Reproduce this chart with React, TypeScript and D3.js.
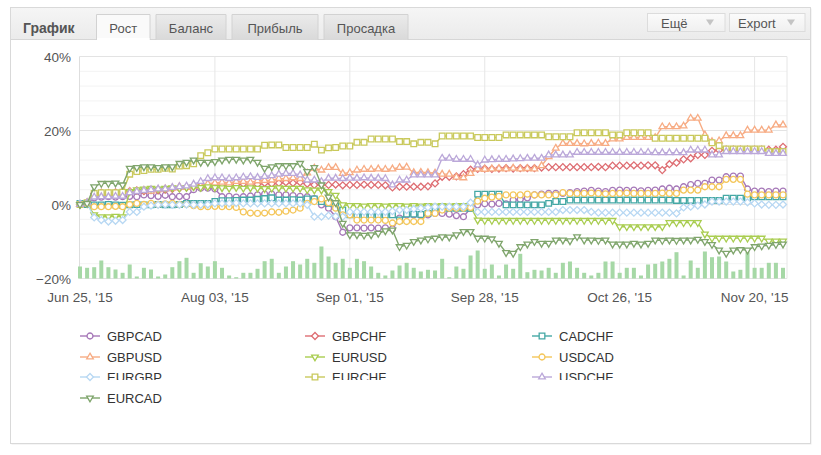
import React from 'react';
import * as d3 from 'd3';

// tick labels sit on every 19th trading point
const tickIdx = [0, 19, 38, 57, 76, 95];
const tickLabels = ["Jun 25, '15", "Aug 03, '15", "Sep 01, '15", "Sep 28, '15", "Oct 26, '15", "Nov 20, '15"];
const yTicks = [40, 20, 0, -20];

const GBPCAD = [
  0, 0.3, 1.8, 2, 2.1, 2, 2.1, 2.2, 2.1, 2.6,
  2.4, 2.2, 2.5, 2.1, 2.2, 2.1, 4, 4.4, 4.4, 4.2,
  2.1, 2.2, 2, 2.1, 2.3, 2.6, 2.8, 2.8, 2.6, 2.6,
  2.4, 2.2, 2.1, 1.6, -0.1, -1, -3.3, -7.5, -6.3, -6.3,
  -6.4, -6.3, -6.4, -6.3, -6.6, -3.7, -2.8, -2.8, -3, -2.8,
  -2.4, -2.4, -2.6, -3, -3.3, -1, -0.1, 0.2, 0.1, 0.3,
  0.2, 1.2, 1.4, 1.8, 2.6, 2.8, 3, 3, 3, 3.2,
  3.5, 3.6, 3.8, 3.6, 3.5, 3.8, 3.9, 3.8, 3.9, 3.7,
  3.8, 3.9, 4.2, 4.4, 4.2, 4.8, 5.4, 5.7, 5.7, 6.6,
  6.6, 7.5, 7.7, 7.7, 4.2, 3.6, 3.6, 3.5, 3.6, 3.6,
];
const GBPCHF = [
  0, 0.5, 3, 3.2, 2.8, 3.3, 3.5, 3.6, 3.8, 3.6,
  3.9, 3.8, 4, 4.2, 4.4, 4.6, 4.8, 5, 5, 5.2,
  5.4, 5.2, 5.4, 5.6, 5.3, 5.5, 5.8, 5.6, 5.8, 6,
  5.8, 6, 5.6, 5.3, 5.4, 5.3, 5.4, 5.2, 5.3, 5.3,
  5.4, 5.3, 5.3, 5.2, 4.6, 4.8, 4.8, 4.8, 4.8, 4.9,
  5.7, 7.5, 7.5, 7.6, 8.2, 9.4, 9.6, 9.7, 9.6, 9.7,
  9.8, 9.7, 9.8, 9.8, 9.8, 10, 10.1, 10.1, 10.1, 10.1,
  10.1, 10.1, 10.1, 10.2, 10.1, 10.5, 10.5, 10.5, 10.6, 10.5,
  10.6, 10.6, 9.3, 10.9, 11.3, 12.2, 12.5, 13.4, 13.4, 14.5,
  14.7, 14.8, 14.8, 14.8, 14.8, 14.8, 14.8, 14.8, 14.8, 15.6,
];
const CADCHF = [
  0.3, 0, -0.1, -0.1, 0, -0.1, -0.2, -0.1, 0, -0.1,
  -0.1, 0, -0.1, -0.1, 0, 0.3, 0.3, 0.3, 0.3, 0.8,
  1, 1, 1.1, 1.2, 1.2, 1.4, 1.6, 1.8, 1.2, 1.2,
  1.3, 1.2, 1.5, 1.5, 0.8, 0.3, -0.4, -1.5, -2.8, -2.8,
  -2.8, -2.8, -2.8, -2.8, -2.8, -4.2, -2.6, -2.6, -2.7, -2.4,
  -1.8, -1, -1, -1, -1, -1, 2.8, 2.8, 2.8, 2.8,
  -0.1, -0.1, -0.1, -0.1, -0.1, -0.1, 0.3, 0.8, 0.8, 1.2,
  1.2, 1.2, 1.2, 1.2, 1.2, 1.2, 1.2, 1.2, 1.2, 1.2,
  1.2, 1.2, 1.2, 1.2, 1.1, 1.1, 1.1, 1.1, 1.1, 1.1,
  1.1, 1.7, 1.7, 1.7, 1.7, 2.1, 2.1, 2.1, 2.1, 2.1,
];
const GBPUSD = [
  0, 0.5, 2.5, 2.8, 3, 2.8, 3.2, 3.5, 3.6, 3.8,
  3.6, 4, 4.2, 4.4, 4.8, 4.6, 5, 5, 5.6, 5.8,
  6, 5.8, 6.2, 6.2, 6, 6.4, 6.5, 6.6, 7, 7,
  7.2, 7, 8.5, 9.8, 9.3, 10, 10, 8.4, 8.6, 9.3,
  9.5, 9.5, 9.6, 9.5, 9.6, 10, 10.1, 8.6, 8.7, 8.6,
  8.5, 8.2, 8.2, 7.4, 7.2, 8.4, 9.6, 9.5, 9.6, 9.7,
  9.6, 9.8, 9.6, 9.7, 9.6, 10.5, 12.9, 15.2, 16.5, 16.5,
  16.5, 16.4, 16.5, 16.6, 16.5, 17.7, 17.7, 18.1, 18.1, 18.1,
  18.1, 18.1, 21, 21, 21, 21.2, 23.3, 23.3, 18.8, 17,
  17.2, 18.6, 18.6, 18.6, 20.1, 20.1, 20.1, 20.1, 21.5, 21.5,
];
const EURUSD = [
  0, 0.3, -2.8, -3.3, -3.3, -3.2, -3.3, 3.5, 4, 4.2,
  4.4, 4.2, 4.4, 4.5, 4.4, 4.6, 4.8, 4.6, 4.8, 4.6,
  4.5, 4.4, 4.6, 4.4, 4.5, 4.4, 4.3, 4.4, 4.5, 4.4,
  4.4, 4.4, 4, 3.9, 3.9, 3.5, 2.5, -0.1, -0.3, -0.3,
  -0.4, -0.3, -0.3, -0.4, -0.3, -0.3, -0.4, -0.3, -0.4, -0.3,
  -0.4, -0.3, -0.4, -0.3, -0.3, -0.6, -4.2, -4.3, -4.3, -4.3,
  -4.3, -4.3, -4.3, -4.3, -4.3, -4.3, -4.3, -4.3, -4.3, -4.3,
  -4.3, -4.3, -4.3, -4.3, -4.3, -4.3, -6, -6, -6, -6,
  -6, -6, -6, -4.9, -4.9, -4.9, -4.9, -4.9, -8, -9.1,
  -9.1, -9.1, -9.1, -9.1, -9.1, -9.1, -9.1, -9.9, -9.9, -9.9,
];
const USDCAD = [
  0, 0.2, -0.6, -0.6, -0.6, -0.5, -0.6, 0, 0.3, 0,
  0.3, 0, 0.2, 0.3, 0, 0, -0.3, -0.6, -0.6, -0.5,
  -0.6, -0.6, -0.8, -2, -2.3, -2.4, -2.3, -2, -2.1, -1.8,
  -1.5, -1, 0.3, 0.8, 1.5, 0.5, -1, -2.8, -2.8, -4.2,
  -4.2, -4.2, -4.2, -4.3, -5, -4.6, -4.6, -4.6, -4.6, -2.4,
  -2.4, -1.5, -1, -1, -1, -0.8, 0.9, 1.7, 2, 2.2,
  2.6, 2.6, 2.6, 2.8, 2.6, 2.6, 2.6, 2.6, 3.2, 3,
  3, 3, 3.1, 3, 2.9, 3, 3, 3.1, 3, 3,
  3, 3, 3.1, 3, 3, 3.9, 3.9, 3.9, 4.8, 4.8,
  4.8, 6.8, 6.8, 6.8, 2.8, 2.6, 2.6, 2.6, 2.6, 2.6,
];
const EURGBP = [
  0.3, 0.3, -3.5, -4.2, -4.6, -4.4, -4.2, -2, -2, -0.6,
  -0.3, -0.1, 0, -0.1, -0.1, 0, -0.1, -0.1, 0, 0.3,
  0.3, 0.3, 0.4, 0.3, 0.3, 0.3, 0.3, 0.3, 0.3, 0.3,
  0.3, 0.3, -0.1, -3.3, -3.3, -3, -3.2, -3.3, -2, -2,
  -2, -2, -2, -2, -1.8, -1.5, -1.5, -1.2, -1, -0.8,
  -0.6, -0.6, -0.6, -0.6, -0.6, 0.5, -2, -2, -2, -2,
  -2, -2, -2, -2, -2, -2, -2, -2, -1.5, -1.5,
  -1.5, -1.5, -2, -2.2, -2.2, -2.2, -2.2, -2.2, -2.2, -2.2,
  -2.2, -2.2, -2.2, -2.2, -2.4, -0.8, -0.6, -0.3, 0, 0.8,
  0.8, 0.8, 0.8, 0.8, 0.6, 0.3, 0, -0.1, -0.1, 0,
];
const EURCHF = [
  0, 0.5, 3, 3.2, 3.2, 3.2, 3.3, 8.2, 8.9, 9.2,
  9.5, 9.5, 9.8, 9.6, 10.4, 10.5, 11, 13.2, 14, 15,
  15, 15, 15, 15, 15, 15, 16, 16.1, 16.1, 15.4,
  15.4, 15.4, 15.4, 16.3, 14.7, 15.3, 15.4, 15.8, 15.8, 16.8,
  16.8, 17.7, 17.7, 17.7, 17.7, 17, 17, 16.4, 16.8, 16.8,
  16.4, 18.5, 18.5, 18.5, 18.5, 18.5, 18.1, 18.1, 18.1, 18.1,
  18.8, 18.8, 18.8, 18.8, 18.8, 18.8, 18.3, 18.3, 18.3, 18.3,
  19.4, 19.4, 19.4, 19.4, 19.4, 18.8, 18.8, 19.4, 19.4, 19.4,
  19.4, 17.9, 17.9, 17.9, 17.9, 17.9, 17.9, 17.9, 17.9, 16.7,
  15.9, 15, 15, 15, 15, 15, 15, 14.3, 14.3, 14.3,
];
const USDCHF = [
  0, 0.5, 2, 2.1, 2.1, 2.2, 2.2, 3.2, 3.5, 3.8,
  4, 4.2, 4.2, 4.6, 4.8, 5, 5.5, 6.2, 7, 7.2,
  7.2, 7, 7.2, 7.4, 7.5, 7.3, 7.6, 7.8, 8.2, 8.4,
  8.4, 8, 6.6, 6.6, 6.2, 7.1, 7.1, 7, 7.1, 7.1,
  7.2, 7.1, 7.1, 7, 5.3, 6.6, 6.6, 8, 8, 8,
  8, 12.5, 12.5, 12.2, 12.2, 12.2, 10.7, 12, 12.1, 12.2,
  12.2, 12.3, 12.4, 12.5, 12.5, 12.5, 13.4, 13.4, 13.4, 13.4,
  14.1, 14.1, 14.1, 14.1, 14.1, 14.1, 14.1, 14.1, 14.1, 14.1,
  14.1, 14, 14, 14, 14, 14, 14.7, 14.7, 14.7, 13.4,
  13.4, 14.3, 14.3, 14.3, 14.3, 14.3, 14.3, 13.8, 13.8, 13.8,
];
const EURCAD = [
  0, 0.3, 4.8, 5.7, 5.7, 5.8, 5.3, 9.8, 10, 10.2,
  10.2, 10, 10.2, 10.2, 11.1, 11.4, 12, 11.4, 11.4, 11.6,
  12, 12.2, 12.2, 12, 12.2, 11.4, 9.8, 10.2, 10.5, 10.5,
  10.5, 11.1, 8.9, 10, 5.3, 2, 0.5, -5.1, -8.2, -8.2,
  -8.3, -8.2, -7.8, -7.1, -6.9, -11.4, -11, -10, -9.6, -9.3,
  -9.1, -8.7, -8.8, -8.2, -7.3, -7.3, -9.1, -9.1, -9.3, -10.5,
  -13, -13.2, -11.4, -10.7, -10, -10.5, -10.5, -9.6, -9.6, -9.8,
  -8.7, -9.6, -9.6, -9.7, -9.6, -10.7, -10.7, -10.7, -10.5, -10.7,
  -10.5, -9.6, -9.7, -9.6, -9.7, -9.6, -9.6, -9.4, -10, -10.8,
  -12.3, -13.2, -12.3, -12.2, -12.3, -11.4, -11.2, -11, -10.8, -10.7,
];
// volume bars under the curves
const volumes = [
  12, 10.7, 11.3, 18, 11.3, 9, 5.7, 14, 2, 10.7,
  9, 2, 4, 11.3, 17.3, 20.7, 5.7, 15.3, 12, 17.3,
  10.7, 3, 1.3, 5.7, 5.7, 9.7, 17.3, 19.7, 5.7, 12,
  17.3, 14, 19.7, 15.7, 32, 22, 15.7, 19.7, 10.7, 19.7,
  17.3, 12, 5.7, 3, 8, 13, 15.7, 10.7, 7, 8.7,
  8, 19.7, 1.3, 12, 9.7, 23, 28, 9.7, 14, 3,
  14, 9.7, 24.7, 6.3, 8.7, 8, 10.7, 5.7, 15.7, 17,
  10.7, 5.7, 3, 5.7, 17, 17, 5.7, 10.7, 10.7, 3,
  14, 14.7, 17, 19.7, 26.3, 3, 18, 10.7, 27, 21.3,
  22, 17, 7, 8.7, 26.3, 10.7, 10.7, 15.7, 15.7, 10.7,
];

const series = [
  { name: 'GBPCAD', values: GBPCAD, color: '#a678b8', shape: 'circle' },
  { name: 'GBPCHF', values: GBPCHF, color: '#de6e73', shape: 'diamond' },
  { name: 'CADCHF', values: CADCHF, color: '#45a8a5', shape: 'square' },
  { name: 'GBPUSD', values: GBPUSD, color: '#f7ac84', shape: 'triangle' },
  { name: 'EURUSD', values: EURUSD, color: '#a9cd50', shape: 'triangleDown' },
  { name: 'USDCAD', values: USDCAD, color: '#f4c65a', shape: 'circle' },
  { name: 'EURGBP', values: EURGBP, color: '#b8d8f3', shape: 'diamond' },
  { name: 'EURCHF', values: EURCHF, color: '#c9c95c', shape: 'square' },
  { name: 'USDCHF', values: USDCHF, color: '#bba8d9', shape: 'triangle' },
  { name: 'EURCAD', values: EURCAD, color: '#7fa56c', shape: 'triangleDown' },
];

const FONT = 'Arial, "Liberation Sans", sans-serif';

const symbolPath = (shape: string) => {
  switch (shape) {
    case 'circle': return d3.symbol(d3.symbolCircle, 28)()!;
    case 'square': return d3.symbol(d3.symbolSquare, 32)()!;
    case 'diamond': return d3.symbol(d3.symbolSquare, 24)()!;
    default: return d3.symbol(d3.symbolTriangle, 19)()!;
  }
};
const symbolRotate = (shape: string) =>
  shape === 'diamond' ? 45 : shape === 'triangleDown' ? 180 : 0;

const Marker = ({ x, y, shape, color }: { x: number; y: number; shape: string; color: string }) => (
  <path
    d={symbolPath(shape)}
    transform={`translate(${x},${y}) rotate(${symbolRotate(shape)})`}
    fill="#fff"
    stroke={color}
    strokeWidth={1.3}
  />
);

export default function App() {
  const W = 821, H = 455;
  const left = 79.5, right = 787, top = 56.5, bottom = 278.5;

  const x = d3.scaleLinear().domain([0, 99]).range([80, 783]);
  const y = d3.scaleLinear().domain([-20, 40]).range([bottom, top]);
  const vol = d3.scaleLinear().domain([0, 40]).range([bottom, bottom - 40]);
  const line = d3.line<number>().x((_, i) => x(i)).y(d => y(d));

  const gridVals = d3.range(-20, 41, 4);

  const tabs = [
    { label: 'Рост', x0: 96.5, x1: 150, active: true },
    { label: 'Баланс', x0: 156, x1: 226, active: false },
    { label: 'Прибыль', x0: 232, x1: 318, active: false },
    { label: 'Просадка', x0: 324, x1: 408, active: false },
  ];
  const buttons = [
    { label: 'Ещё', x0: 647.5, x1: 725, tx: 661, ax: 706 },
    { label: 'Export', x0: 729.5, x1: 805, tx: 738, ax: 787 },
  ];

  const legendCols = [80, 305, 532];
  const legendRows = [336, 357, 377, 398];

  return (
    <svg width={W} height={H} style={{ position: 'absolute', left: 0, top: 0, background: '#fff' }} fontFamily={FONT}>
      <defs>
        <linearGradient id="hdr" x1="0" y1="0" x2="0" y2="1">
          <stop offset="0" stopColor="#f5f5f5" />
          <stop offset="1" stopColor="#ebebeb" />
        </linearGradient>
        <linearGradient id="tab" x1="0" y1="0" x2="0" y2="1">
          <stop offset="0" stopColor="#ebebeb" />
          <stop offset="1" stopColor="#d9d9d9" />
        </linearGradient>
        <linearGradient id="btn" x1="0" y1="0" x2="0" y2="1">
          <stop offset="0" stopColor="#fbfbfb" />
          <stop offset="1" stopColor="#f0f0f0" />
        </linearGradient>
        <clipPath id="row3">
          <rect x={0} y={360} width={W} height={20} />
        </clipPath>
      </defs>

      {/* panel */}
      <rect x={11.5} y={8.5} width={800} height={436} fill="#ececec" />
      <rect x={10.5} y={7.5} width={800} height={436} fill="#fff" stroke="#d9d9d9" />
      <rect x={11} y={8} width={799} height={31.5} fill="url(#hdr)" />
      <line x1={11} x2={810} y1={39.5} y2={39.5} stroke="#d6d6d6" />
      <text x={23} y={32.5} fontSize={14} fontWeight="bold" fill="#555">График</text>
      {tabs.map(t => (
        <g key={t.label}>
          <path
            d={`M${t.x0},40V14.5H${t.x1}V40`}
            fill={t.active ? '#fafafa' : 'url(#tab)'}
            stroke="#d2d2d2"
          />
          {t.active && <rect x={t.x0 + 0.5} y={38} width={t.x1 - t.x0 - 1} height={3} fill="#fff" />}
          <text x={(t.x0 + t.x1) / 2} y={32.5} fontSize={13} fill="#555" textAnchor="middle">{t.label}</text>
        </g>
      ))}
      {buttons.map(b => (
        <g key={b.label}>
          <rect x={b.x0} y={13.5} width={b.x1 - b.x0} height={18} fill="url(#btn)" stroke="#dcdcdc" />
          <text x={b.tx} y={27.5} fontSize={13} fill="#555">{b.label}</text>
          <path d={`M${b.ax},19.5h8l-4,6z`} fill="#c4c4c4" />
        </g>
      ))}

      {/* grid */}
      {gridVals.map(v => (
        <line key={v} x1={left} x2={right} y1={y(v)} y2={y(v)}
          stroke={v % 20 === 0 ? '#e3e3e3' : '#f3f3f3'} />
      ))}
      {tickIdx.slice(1).map(i => (
        <line key={i} x1={x(i)} x2={x(i)} y1={top} y2={bottom} stroke="#e6e6e6" />
      ))}
      <line x1={left} x2={left} y1={top} y2={bottom} stroke="#dedede" />
      <line x1={right} x2={right} y1={top} y2={bottom} stroke="#e6e6e6" />

      {/* axis labels */}
      {yTicks.map(v => (
        <text key={v} x={71} y={y(v) + 5} fontSize={13.5} fill="#555" textAnchor="end">
          {v < 0 ? `\u2212${-v}%` : `${v}%`}
        </text>
      ))}
      {tickIdx.map((i, k) => (
        <text key={i} x={x(i)} y={302} fontSize={13.5} fill="#555" textAnchor="middle">{tickLabels[k]}</text>
      ))}

      {/* volume bars */}
      {volumes.map((v, i) => (
        <rect key={i} x={x(i) - 2} y={vol(v)} width={4} height={bottom - vol(v)} fill="#a6d8a6" />
      ))}

      {/* series */}
      {series.map(s => (
        <g key={s.name}>
          <path d={line(s.values)!} fill="none" stroke={s.color} strokeWidth={1.4} />
          {s.values.map((v, i) => (
            <Marker key={i} x={x(i)} y={y(v)} shape={s.shape} color={s.color} />
          ))}
        </g>
      ))}

      {/* legend */}
      {series.map((s, k) => {
        const cx = legendCols[k % 3];
        const cy = legendRows[Math.floor(k / 3)];
        const row = Math.floor(k / 3);
        return (
          <g key={s.name}>
            <line x1={cx} x2={cx + 20} y1={cy} y2={cy} stroke={s.color} strokeWidth={1.4} />
            <Marker x={cx + 10} y={cy} shape={s.shape} color={s.color} />
            <text x={cx + 27} y={cy + 4.5} fontSize={13} fill="#333"
              clipPath={row === 2 ? 'url(#row3)' : undefined}>{s.name}</text>
          </g>
        );
      })}
    </svg>
  );
}
